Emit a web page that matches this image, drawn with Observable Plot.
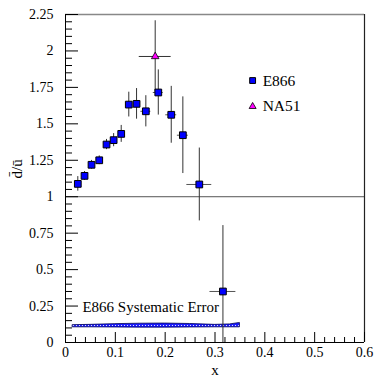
<!DOCTYPE html>
<html><head><meta charset="utf-8">
<script src="https://cdn.jsdelivr.net/npm/d3@7"></script>
<script src="https://cdn.jsdelivr.net/npm/@observablehq/plot@0.6"></script>
<style>
body{margin:0;background:#fff;}
#chart svg, #chart svg text { font-family: "Liberation Serif", "DejaVu Serif", serif !important; }
</style>
</head><body><div id="chart"></div>
<script>
// E866 data
const e866X    = [0.0247, 0.0382, 0.0522, 0.0677, 0.0823, 0.0966, 0.1118, 0.127, 0.1426, 0.1612, 0.1862, 0.2122, 0.2355, 0.2685, 0.3159];
const e866Y    = [1.088, 1.143, 1.219, 1.250, 1.358, 1.388, 1.431, 1.632, 1.637, 1.586, 1.715, 1.562, 1.422, 1.084, 0.350];
const e866YErr = [0.050, 0.030, 0.030, 0.030, 0.035, 0.045, 0.058, 0.085, 0.105, 0.107, 0.155, 0.195, 0.263, 0.250, 0.452];
const e866XErr = [0.004, 0.004, 0.004, 0.004, 0.004, 0.004, 0.004, 0.005, 0.005, 0.010, 0.010, 0.011, 0.011, 0.025, 0.026];
// NA51 data
const na51X = [0.18];
const na51Y = [1.962];
const na51YErr = [0.245];
const na51XErr = [0.032];
// E866 systematic error band
const sysX  = [0.015, 0.05, 0.10, 0.15, 0.20, 0.25, 0.30, 0.33, 0.35];
const sysLo = [0.104, 0.104, 0.103, 0.102, 0.102, 0.103, 0.104, 0.104, 0.104];
const sysHi = [0.119, 0.121, 0.126, 0.129, 0.130, 0.127, 0.121, 0.124, 0.134];
// ticks
const xTicks = [0, 0.1, 0.2, 0.3, 0.4, 0.5, 0.6];
const xTickLabels = ["0", "0.1", "0.2", "0.3", "0.4", "0.5", "0.6"];
const yTicks = [0, 0.25, 0.5, 0.75, 1, 1.25, 1.5, 1.75, 2, 2.25];
const yTickLabels = ["0", "0.25", "0.5", "0.75", "1", "1.25", "1.5", "1.75", "2", "2.25"];
const xMinor = d3.range(0, 31).map(i => +(i * 0.02).toFixed(2)).filter(v => !xTicks.some(t => Math.abs(t - v) < 1e-9));
const yMinor = d3.range(0, 46).map(i => +(i * 0.05).toFixed(2)).filter(v => !yTicks.some(t => Math.abs(t - v) < 1e-9));
// labels
const legendLabels = ["E866", "NA51"];
const legendPos = {x: 0.3755, y: [1.797, 1.619], tx: 0.3956};
const sysLabel = "E866 Systematic Error";
const sysLabelPos = {x: 0.034, y: 0.206};
const xTitle = "x";
const yTitle = "d\u0304/u\u0304";

const FONT = "Liberation Serif";
const e866 = e866X.map((x, i) => ({x, y: e866Y[i], ye: e866YErr[i], xe: e866XErr[i]}));
const na51 = na51X.map((x, i) => ({x, y: na51Y[i], ye: na51YErr[i], xe: na51XErr[i]}));
const band = sysX.map((x, i) => ({x, lo: sysLo[i], hi: sysHi[i]}));
const xFmt = d => xTickLabels[xTicks.indexOf(d)];
const yFmt = d => yTickLabels[yTicks.indexOf(d)];

const ns = "http://www.w3.org/2000/svg";
function patternDefs() {
  const defs = document.createElementNS(ns, "defs");
  const p = document.createElementNS(ns, "pattern");
  p.setAttribute("id", "sysdots");
  p.setAttribute("patternUnits", "userSpaceOnUse");
  p.setAttribute("width", "3"); p.setAttribute("height", "3");
  const r = document.createElementNS(ns, "rect");
  r.setAttribute("width", "3"); r.setAttribute("height", "3"); r.setAttribute("fill", "#1a1aff");
  const c = document.createElementNS(ns, "circle");
  c.setAttribute("cx", "1.5"); c.setAttribute("cy", "1.5"); c.setAttribute("r", "0.6"); c.setAttribute("fill", "#ffffff");
  p.appendChild(r); p.appendChild(c); defs.appendChild(p);
  return defs;
}

const chart = Plot.plot({
  width: 374, height: 377,
  marginLeft: 65, marginRight: 10, marginTop: 14, marginBottom: 35,
  x: {domain: [0, 0.6]},
  y: {domain: [0, 2.25]},
  style: {fontFamily: FONT, fontSize: "14px", color: "black", background: "white"},
  marks: [
    patternDefs,
    Plot.areaY(band, {x: "x", y1: "lo", y2: "hi", fill: "url(#sysdots)", stroke: "#000050", strokeWidth: 0.8}),
    Plot.ruleY([1], {stroke: "#555", strokeWidth: 1}),
    Plot.ruleY([2.25], {stroke: "#888", strokeWidth: 1.5}),
    Plot.ruleX([0.6], {stroke: "#222", strokeWidth: 1.2}),
    Plot.ruleX([0], {stroke: "black"}),
    Plot.ruleY([0], {stroke: "black"}),
    // axes: labels
    Plot.axisY(yTicks, {tickSize: 0, tickPadding: 12, label: null, tickFormat: yFmt, fontSize: 14, fontFamily: FONT, fill: "black"}),
    Plot.axisX(xTicks, {tickSize: 0, tickPadding: 5, label: null, tickFormat: xFmt, fontSize: 14, fontFamily: FONT, fill: "black"}),
    // inward ticks
    Plot.axisY(yTicks, {tickSize: 13, dx: 13, fill: "none", label: null, stroke: "black"}),
    Plot.axisY(yMinor, {tickSize: 7, dx: 7, fill: "none", label: null, stroke: "black"}),
    Plot.axisX(xTicks, {tickSize: 10, dy: -10, fill: "none", label: null, stroke: "black"}),
    Plot.axisX(xMinor, {tickSize: 5, dy: -5, fill: "none", label: null, stroke: "black"}),
    // error bars
    Plot.ruleX(e866, {x: "x", y1: d => d.y - d.ye, y2: d => d.y + d.ye, stroke: "#333", clip: true}),
    Plot.ruleY(e866, {y: "y", x1: d => d.x - d.xe, x2: d => d.x + d.xe, stroke: "#555"}),
    Plot.ruleX(na51, {x: "x", y1: d => d.y - d.ye, y2: d => d.y + d.ye, stroke: "#333"}),
    Plot.ruleY(na51, {y: "y", x1: d => d.x - d.xe, x2: d => d.x + d.xe, stroke: "#333"}),
    // markers
    Plot.dot(e866, {x: "x", y: "y", symbol: "square", r: 3.8, fill: "#0000ff", stroke: "black", strokeWidth: 1}),
    Plot.dot(na51, {x: "x", y: "y", symbol: "triangle", r: 2.8, fill: "#ff00ff", stroke: "black", strokeWidth: 0.8}),
    // legend
    Plot.dot([legendLabels[0]], {x: () => legendPos.x, y: () => legendPos.y[0], symbol: "square", r: 3.3, fill: "#0000ff", stroke: "black", strokeWidth: 1}),
    Plot.dot([legendLabels[1]], {x: () => legendPos.x, y: () => legendPos.y[1], symbol: "triangle", r: 2.6, fill: "#ff00ff", stroke: "black", strokeWidth: 0.8}),
    Plot.text(legendLabels, {x: () => legendPos.tx, y: (d, i) => legendPos.y[i], text: d => d, textAnchor: "start", fontSize: 15.5, fontFamily: FONT, fill: "black"}),
    // systematic label
    Plot.text([sysLabel], {x: () => sysLabelPos.x, y: () => sysLabelPos.y, text: d => d, textAnchor: "start", lineAnchor: "bottom", fontSize: 15, fontFamily: FONT, fill: "black"}),
    // axis titles
    Plot.text([xTitle], {frameAnchor: "bottom", dy: 28, text: d => d, fontSize: 15, fontFamily: FONT, fill: "black", lineAnchor: "middle"}),
    Plot.text([yTitle], {frameAnchor: "left", dx: -44, rotate: -90, text: d => d, fontSize: 15, fontFamily: FONT, fill: "black", lineAnchor: "bottom"})
  ]
});
document.getElementById("chart").appendChild(chart);
</script>
</body></html>
